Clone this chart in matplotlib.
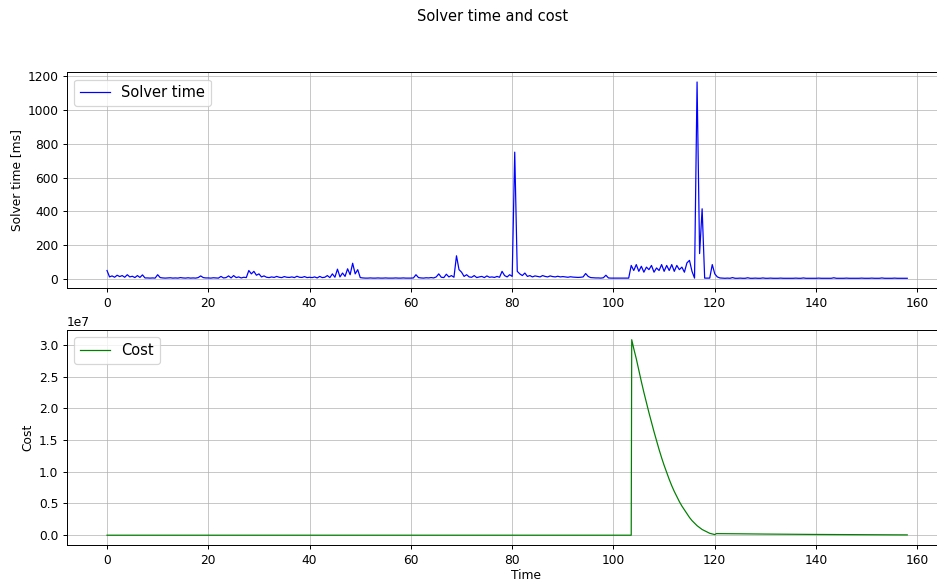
import numpy as np
import matplotlib
matplotlib.use("Agg")
import matplotlib.pyplot as plt
from matplotlib.ticker import MultipleLocator

# solver time per step [ms], sampled every 0.5 s from t=0
dt = 0.5
solver_ms = [
    50, 12, 18, 10, 22, 14, 20, 10, 25, 12, 16, 8, 20, 9, 24, 6, 6, 5, 6, 5,
    25, 8, 6, 5, 6, 7, 5, 6, 5, 8, 6, 5, 7, 5, 6, 5, 8, 18, 8, 6,
    6, 5, 7, 6, 5, 15, 6, 8, 18, 6, 20, 8, 12, 6, 10, 8, 50, 30, 45, 22,
    30, 12, 18, 10, 8, 12, 9, 15, 10, 8, 14, 10, 9, 12, 8, 16, 10, 9, 14, 8,
    10, 8, 12, 6, 15, 8, 10, 20, 8, 30, 10, 58, 12, 35, 15, 60, 25, 93, 30, 55,
    8, 6, 5, 5, 6, 5, 5, 6, 5, 5, 6, 5, 5, 5, 6, 5, 5, 6, 5, 5,
    5, 6, 25, 8, 6, 5, 7, 6, 8, 6, 12, 30, 10, 8, 28, 12, 20, 10, 137, 55,
    40, 15, 25, 12, 10, 20, 8, 12, 15, 8, 18, 10, 12, 9, 15, 10, 45, 20, 12, 25,
    15, 750, 45, 30, 20, 35, 15, 20, 12, 18, 15, 12, 20, 15, 12, 18, 14, 12, 16, 12,
    14, 12, 10, 13, 11, 10, 9, 10, 12, 32, 15, 8, 7, 6, 6, 5, 7, 22, 6, 5,
    5, 5, 5, 5, 5, 5, 5, 80, 50, 85, 45, 75, 40, 70, 55, 80, 40, 65, 50, 85,
    45, 80, 50, 85, 45, 80, 55, 70, 40, 95, 110, 45, 5, 1165, 150, 415, 5, 5, 5, 85,
    30, 12, 6, 5, 4, 5, 4, 8, 4, 4, 5, 4, 4, 7, 4, 4, 5, 4, 4, 6,
    4, 4, 5, 4, 4, 4, 5, 4, 4, 4, 4, 4, 5, 4, 4, 6, 4, 4, 4, 4,
    4, 5, 4, 4, 4, 4, 4, 7, 4, 4, 4, 4, 5, 4, 4, 4, 4, 4, 5, 4,
    4, 4, 5, 4, 4, 4, 6, 4, 4, 4, 4, 5, 4, 4, 4, 4, 4,
]
solver_t = np.arange(len(solver_ms)) * dt

# cost samples (time, value)
cost_t = [0, 103.5, 103.6, 104.0, 104.5, 105.0, 105.5, 106.0, 106.5, 107.0,
          107.5, 108.0, 108.5, 109.0, 109.5, 110.0, 110.5, 111.0, 111.5,
          112.0, 112.5, 113.0, 113.5, 114.0, 114.5, 115.0, 115.5, 116.0,
          116.5, 117.0, 117.5, 118.0, 118.5, 119.0, 119.5, 120.0, 120.3,
          125, 130, 135, 140, 145, 150, 155, 158]
cost = [0, 0, 3.08e7, 2.94e7, 2.78e7, 2.60e7, 2.42e7, 2.25e7, 2.09e7, 1.93e7,
        1.78e7, 1.63e7, 1.49e7, 1.35e7, 1.22e7, 1.10e7, 0.99e7, 0.88e7, 0.78e7,
        0.69e7, 0.61e7, 0.53e7, 0.46e7, 0.40e7, 0.34e7, 0.28e7, 0.23e7, 0.19e7,
        0.15e7, 0.12e7, 0.09e7, 0.07e7, 0.05e7, 0.03e7, 0.02e7, 0.01e7, 0.025e7,
        0.022e7, 0.018e7, 0.015e7, 0.012e7, 0.010e7, 0.008e7, 0.006e7, 0.005e7]

dpi = 88
fig = plt.figure(figsize=(937 / dpi, 582 / dpi), dpi=dpi)
fig.suptitle("Solver time and cost", x=0.526, y=0.985)

# the plot area runs past the right edge of the canvas
xmin, xmax = -7.9, 173.4

ax1 = fig.add_axes([0.0715, 0.505, 0.98, 0.371])
ax1.plot(solver_t, solver_ms, color="blue", linewidth=1, label="Solver time")
ax1.set_ylabel("Solver time [ms]")
ax1.legend(loc="upper left", fontsize=12)

ax2 = fig.add_axes([0.0715, 0.0636, 0.98, 0.3695])
ax2.plot(cost_t, cost, color="green", linewidth=1, label="Cost")
ax2.set_ylabel("Cost")
ax2.set_xlabel("Time", labelpad=2)
ax2.legend(loc="upper left", fontsize=12)

for ax in (ax1, ax2):
    ax.set_xlim(xmin, xmax)
    ax.xaxis.set_major_locator(MultipleLocator(20))
    ax.grid(True, alpha=0.7)
    ax.spines["right"].set_visible(False)

fig.savefig("out.png", dpi=dpi)
